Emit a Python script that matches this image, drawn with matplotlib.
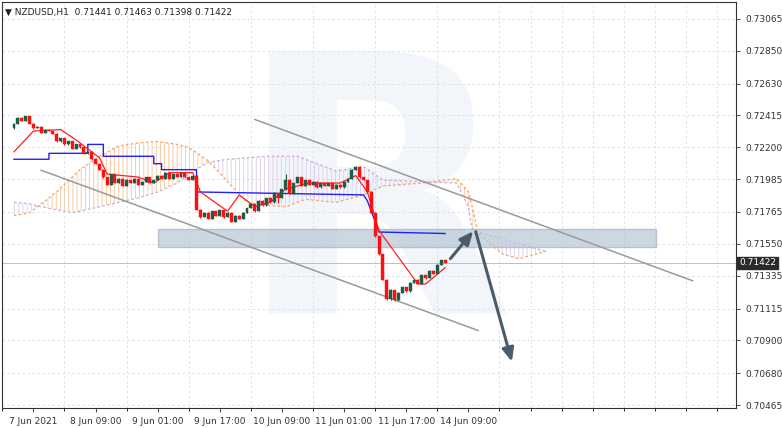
import numpy as np
import matplotlib
matplotlib.use("Agg")
import matplotlib.pyplot as plt
from matplotlib.patches import Rectangle

# hourly closes (NZDUSD H1)
closes = [0.7236, 0.7240, 0.7238, 0.7241, 0.7236, 0.7233, 0.7234, 0.7230, 0.7232, 0.7231,
          0.7229, 0.7224, 0.7226, 0.7222, 0.7224, 0.7219, 0.7222, 0.7220, 0.7216, 0.7217,
          0.7212, 0.7209, 0.7205, 0.7200, 0.7195, 0.7202, 0.7196, 0.7199, 0.7194, 0.7198,
          0.7196, 0.7199, 0.7195, 0.7197, 0.7200, 0.7196, 0.7198, 0.7201, 0.7199, 0.7203,
          0.7199, 0.7202, 0.7200, 0.7203, 0.7200, 0.7198, 0.7201, 0.7178, 0.7173, 0.7176,
          0.7172, 0.7177, 0.7174, 0.7178, 0.7173, 0.7176, 0.7170, 0.7174, 0.7172, 0.7176,
          0.7179, 0.7182, 0.7177, 0.7184, 0.7181, 0.7186, 0.7183, 0.7189, 0.7186, 0.7192,
          0.7198, 0.7189, 0.7196, 0.7200, 0.7194, 0.7198, 0.7195, 0.7197, 0.7193, 0.7196,
          0.7194, 0.7196, 0.7192, 0.7195, 0.7193, 0.7197, 0.7199, 0.7205, 0.7207, 0.7200,
          0.7198, 0.7190, 0.7176, 0.7160, 0.7148, 0.7131, 0.7118, 0.7124, 0.7117, 0.7122,
          0.7126, 0.7123, 0.7129, 0.7131, 0.7128, 0.7134, 0.7132, 0.7137, 0.7135, 0.7141,
          0.71441, 0.71422]
first_open = 0.7233
# wick extensions in pips above / below the body
wick_up = [3, 2, 2, 1, 2, 1, 2, 1, 2, 1, 2, 3, 1, 2, 1, 3, 1, 2, 1, 2,
           2, 1, 3, 2, 1, 2, 1, 2, 1, 3, 1, 2, 1, 2, 1, 1, 2, 1, 2, 1,
           2, 1, 1, 2, 1, 2, 1, 3, 2, 1, 2, 1, 2, 1, 1, 2, 1, 2, 1, 2,
           1, 2, 1, 2, 3, 1, 2, 6, 2, 1, 25, 3, 2, 1, 2, 1, 2, 2, 1, 1,
           2, 1, 2, 1, 2, 1, 3, 5, 2, 1, 2, 1, 2, 1, 2, 2, 1, 2, 1, 2,
           1, 2, 1, 2, 1, 2, 1, 2, 1, 2, 2, 2]
wick_dn = [2, 1, 2, 2, 1, 2, 1, 3, 1, 2, 1, 2, 2, 1, 2, 1, 2, 1, 2, 1,
           2, 3, 1, 2, 3, 1, 2, 1, 2, 1, 2, 1, 2, 1, 2, 1, 1, 2, 1, 2,
           1, 2, 1, 1, 2, 1, 2, 2, 3, 1, 2, 1, 2, 1, 2, 1, 3, 1, 2, 1,
           2, 1, 2, 1, 2, 1, 2, 1, 25, 2, 3, 1, 2, 1, 2, 2, 1, 2, 1, 2,
           1, 2, 1, 2, 1, 2, 1, 2, 3, 2, 2, 3, 2, 4, 3, 4, 6, 3, 5, 2,
           2, 2, 3, 1, 2, 1, 2, 1, 2, 1, 1, 1]

# Ichimoku lines: (bar, price) knots
tenkan_i = [0, 5, 12, 16, 22, 24, 32, 36, 40, 46, 48, 55, 58, 62, 66, 70, 76, 84, 88, 91, 94, 104, 106, 111]
tenkan_p = [0.7217, 0.7231, 0.7232, 0.7225, 0.7213, 0.7202, 0.7200, 0.7196, 0.7203, 0.7203, 0.7190, 0.7177,
            0.7188, 0.7180, 0.7183, 0.7192, 0.7196, 0.7196, 0.7201, 0.7190, 0.7164, 0.7128, 0.7128, 0.7139]
kijun_i = [0, 9, 9, 19, 19, 23, 23, 36, 36, 38, 38, 47, 47, 90, 91, 94, 111]
kijun_p = [0.7212, 0.7212, 0.7216, 0.7216, 0.7222, 0.7222, 0.7214, 0.7214, 0.7209, 0.7209, 0.7205, 0.7205,
           0.7190, 0.7188, 0.7184, 0.7163, 0.7162]
cloud_i = [0, 4, 7, 11, 15, 17, 22, 27, 32, 37, 42, 45, 50, 55, 60, 65, 70, 73, 75, 83, 90, 95,
           105, 114, 117, 118, 119.5, 125, 126, 130, 137]
span_a = [0.7174, 0.7176, 0.7182, 0.7190, 0.7200, 0.7205, 0.7214, 0.7221, 0.7223, 0.7224, 0.7222, 0.7220,
          0.7211, 0.7197, 0.7183, 0.7181, 0.7180, 0.7183, 0.7185, 0.7183, 0.7188, 0.7194, 0.7196, 0.7199,
          0.7190, 0.7180, 0.7162, 0.7150, 0.7148, 0.7145, 0.7150]
span_b = [0.7183, 0.7182, 0.7180, 0.7178, 0.7176, 0.7177, 0.7180, 0.7183, 0.7186, 0.7190, 0.7196, 0.7202,
          0.7210, 0.7212, 0.7213, 0.7214, 0.7214, 0.7214, 0.7212, 0.7204, 0.7207, 0.7198, 0.7197, 0.7196,
          0.7180, 0.7165, 0.7163, 0.7159, 0.7158, 0.7155, 0.7150]

price_ticks = [0.73065, 0.72850, 0.72630, 0.72415, 0.72200, 0.71985, 0.71765,
               0.71550, 0.71335, 0.71115, 0.70900, 0.70680, 0.70465]
time_pos = [5, 21, 37, 53, 69, 85, 101, 117]
time_labels = ["7 Jun 2021", "8 Jun 09:00", "9 Jun 01:00", "9 Jun 17:00",
               "10 Jun 09:00", "11 Jun 01:00", "11 Jun 17:00", "14 Jun 09:00"]
last_price = 0.71422

# channel, support zone and forecast arrows (bar, price)
upper_chan = [(62.0, 0.72388), (174.7, 0.71302)]
lower_chan = [(7.0, 0.72046), (119.5, 0.70967)]
zone = (37.2, 165.2, 0.71531, 0.71651)
arrow_up = [(111.9, 0.71436), (118.7, 0.71650)]
arrow_dn = [(118.7, 0.71650), (128.4, 0.70739)]

plt.rcParams["hatch.linewidth"] = 0.6
fig = plt.figure(figsize=(7.82, 4.28), dpi=100)
ax = fig.add_axes([0.003, 20 / 428, 734 / 782, 406 / 428])
ax.set_xlim(-0.8, 186)
ax.set_ylim(0.70445, 0.73179)

ax.text(93, 0.7175, "R", fontsize=260, color="#f2f5f9", ha="center", va="center",
        fontweight="bold", zorder=0)

# cloud
ci = np.array(cloud_i)
sa = np.array(span_a)
sb = np.array(span_b)
ax.fill_between(ci, sa, sb, where=sa >= sb, interpolate=True, facecolor="none",
                edgecolor="#f8c49a", hatch="||||", linewidth=0.01, zorder=1)
ax.fill_between(ci, sa, sb, where=sa < sb, interpolate=True, facecolor="none",
                edgecolor="#ddcce8", hatch="||||", linewidth=0.01, zorder=1)
ax.plot(ci, sa, color="#f4a261", lw=0.9, ls=(0, (2, 2)), zorder=2)
ax.plot(ci, sb, color="#c9a9d6", lw=0.9, ls=(0, (2, 2)), zorder=2)

ax.add_patch(Rectangle((zone[0], zone[2]), zone[1] - zone[0], zone[3] - zone[2],
                       facecolor="#b8c7d6", edgecolor="#9fb4cc", alpha=0.7, lw=1, zorder=3))

ax.plot(kijun_i, kijun_p, color="#2020ff", lw=1, zorder=4)
ax.plot(tenkan_i, tenkan_p, color="#ff2020", lw=0.9, zorder=4)

# candles
opens = [first_open] + closes[:-1]
for i, (o, c) in enumerate(zip(opens, closes)):
    col = "#1f5c46" if c >= o else "#ff1010"
    hi = max(o, c) + wick_up[i] * 0.000015
    lo = min(o, c) - wick_dn[i] * 0.000015
    ax.vlines(i, lo, hi, color=col, lw=0.8, zorder=5)
    ax.add_patch(Rectangle((i - 0.38, min(o, c)), 0.76, max(abs(c - o), 0.00004),
                           facecolor=col, edgecolor=col, lw=0.3, zorder=5))

for seg in (upper_chan, lower_chan):
    ax.plot([seg[0][0], seg[1][0]], [seg[0][1], seg[1][1]], color="#9a9a9a", lw=1.1, zorder=4)

for a in (arrow_up, arrow_dn):
    ax.annotate("", xy=a[1], xytext=a[0], zorder=6,
                arrowprops=dict(arrowstyle="-|>,head_length=0.8,head_width=0.35",
                                color="#4a5b6b", lw=2.2))

ax.axhline(last_price, color="#c0c0c0", lw=0.7, zorder=2)

ax.set_yticks(price_ticks)
ax.set_yticklabels([f"{p:.5f}" for p in price_ticks])
ax.yaxis.tick_right()
ax.set_xticks(time_pos)
ax.set_xticklabels(time_labels)
ax.tick_params(labelsize=6.5, length=3, color="#555555", labelcolor="#333333")
ax.set_xticks(np.arange(-3, 186, 8), minor=True)
ax.grid(True, which="minor", axis="x", ls=(0, (3, 3)), color="#dddddd", lw=0.6)
ax.grid(True, which="major", axis="y", ls=(0, (3, 3)), color="#dddddd", lw=0.6)
for s in ax.spines.values():
    s.set_color("#333333")
    s.set_linewidth(0.8)

ax.text(1.004, last_price, f"{last_price:.5f}", transform=ax.get_yaxis_transform(),
        fontsize=6.5, color="white", va="center", ha="left",
        bbox=dict(boxstyle="square,pad=0.2", facecolor="#2b2b2b", edgecolor="#2b2b2b"))
ax.text(0.004, 0.985, "\u25bc NZDUSD,H1  0.71441 0.71463 0.71398 0.71422", transform=ax.transAxes,
        fontsize=6.5, color="#222222", va="top", ha="left")

fig.savefig("out.png", dpi=100)
